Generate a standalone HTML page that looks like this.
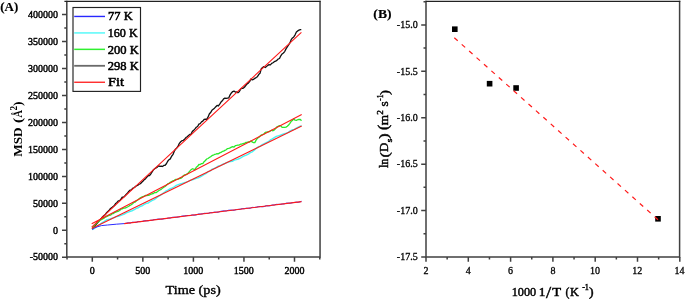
<!DOCTYPE html>
<html><head><meta charset="utf-8"><style>
html,body{margin:0;padding:0;background:#fff;overflow:hidden;}
svg{display:block;will-change:transform;}
text{font-family:"Liberation Serif",serif;fill:#000;}
</style></head><body>
<svg width="685" height="300" viewBox="0 0 685 300">
<path d="M66.8,257.05V1.4M320.05,1.4V257.05M66.8,257.05H320.05" stroke="#404040" stroke-width="1.5" fill="none" stroke-linecap="square"/>
<path d="M64.4,1.4H320.55" stroke="#222" stroke-width="1.1" fill="none"/>
<path d="M62,257.26H66.8 M62,230.3H66.8 M62,203.34H66.8 M62,176.38H66.8 M62,149.41H66.8 M62,122.45H66.8 M62,95.49H66.8 M62,68.53H66.8 M62,41.56H66.8 M62,14.6H66.8 M64.3,243.78H66.8 M64.3,216.82H66.8 M64.3,189.86H66.8 M64.3,162.89H66.8 M64.3,135.93H66.8 M64.3,108.97H66.8 M64.3,82.01H66.8 M64.3,55.04H66.8 M64.3,28.08H66.8 M92.3,257.05V261.85 M142.85,257.05V261.85 M193.4,257.05V261.85 M243.95,257.05V261.85 M294.5,257.05V261.85 M67.03,257.05V259.55 M117.57,257.05V259.55 M168.12,257.05V259.55 M218.68,257.05V259.55 M269.23,257.05V259.55 M319.77,257.05V259.55" stroke="#404040" stroke-width="1.5" fill="none"/>
<text x="29.65" y="260.46" font-size="10" stroke="#000" stroke-width="0.42">-50000</text>
<text x="52.98" y="233.5" font-size="10" stroke="#000" stroke-width="0.42">0</text>
<text x="32.98" y="206.54" font-size="10" stroke="#000" stroke-width="0.42">50000</text>
<text x="27.98" y="179.57" font-size="10" stroke="#000" stroke-width="0.42">100000</text>
<text x="27.98" y="152.61" font-size="10" stroke="#000" stroke-width="0.42">150000</text>
<text x="27.98" y="125.65" font-size="10" stroke="#000" stroke-width="0.42">200000</text>
<text x="27.98" y="98.69" font-size="10" stroke="#000" stroke-width="0.42">250000</text>
<text x="27.98" y="71.73" font-size="10" stroke="#000" stroke-width="0.42">300000</text>
<text x="27.98" y="44.76" font-size="10" stroke="#000" stroke-width="0.42">350000</text>
<text x="27.98" y="17.8" font-size="10" stroke="#000" stroke-width="0.42">400000</text>
<text x="89.8" y="273.7" font-size="10" stroke="#000" stroke-width="0.42">0</text>
<text x="135.18" y="273.7" font-size="10" stroke="#000" stroke-width="0.42">500</text>
<text x="183.15" y="273.7" font-size="10" stroke="#000" stroke-width="0.42">1000</text>
<text x="233.7" y="273.7" font-size="10" stroke="#000" stroke-width="0.42">1500</text>
<text x="284.42" y="273.7" font-size="10" stroke="#000" stroke-width="0.42">2000</text>
<polyline points="92.3,229.01 93.6,227.42 94.9,225.87 96.2,224.33 97.5,222.73 98.8,221.21 100.1,219.75 101.4,218.28 102.7,216.74 104,215.43 105.3,214.63 106.6,212.69 107.9,211.44 109.2,210.28 110.5,208.44 111.8,207.63 113.1,206.57 114.4,205.59 115.7,203.41 117,202.47 118.3,200.93 119.6,200.7 120.9,199.32 122.2,197.2 123.5,197.31 124.8,196.1 126.1,194.49 127.4,193.26 128.7,191.49 130,190.22 131.3,189.91 132.6,188.41 133.9,187.73 135.2,186.89 136.5,185.69 137.8,185.3 139.1,184.23 140.4,183.75 141.7,182.26 143,181.16 144.3,179.69 145.6,178.65 146.9,177.15 148.2,175.72 149.5,175.54 150.8,173.99 152.1,171.83 153.4,169.89 154.7,168.69 156,167.92 157.3,167.1 158.6,165.84 159.9,166.46 161.2,166.12 162.5,166.49 163.8,165.46 165.1,165.24 166.4,163.79 167.7,161.22 169,159.69 170.3,158.84 171.6,156.25 172.9,154.67 174.2,151.56 175.5,149.15 176.8,147.98 178.1,146.14 179.4,143.34 180.7,141.72 182,140.72 183.3,140.29 184.6,139.21 185.9,137.53 187.2,136.72 188.5,135.52 189.8,134.47 191.1,134.02 192.4,131.37 193.7,130.38 195,128.93 196.3,127.27 197.6,126.5 198.9,124.12 200.2,123.55 201.5,121.9 202.8,121.09 204.1,119.5 205.4,119.21 206.7,119.44 208,117.19 209.3,114.03 210.6,112.55 211.9,110.35 213.2,109.28 214.5,108.17 215.8,106.81 217.1,105.43 218.4,105.97 219.7,104.1 221,102.08 222.3,100.78 223.6,98.86 224.9,98.11 226.2,98.45 227.5,98.1 228.8,97.77 230.1,94.89 231.4,92.97 232.7,91.52 234,91.05 235.3,92.05 236.6,91.95 237.9,92.75 239.2,91.74 240.5,89.33 241.8,88.29 243.1,88.35 244.4,87.26 245.7,85.52 247,84.02 248.3,83.1 249.6,81.62 250.9,79.05 252.2,79.93 253.5,79.46 254.8,78.36 256.1,77.58 257.4,76.68 258.7,74.54 260,73.31 261.3,68.69 262.6,67.47 263.9,66.58 265.2,67.54 266.5,66.5 267.8,65.38 269.1,64.64 270.4,64.85 271.7,63.42 273,62.74 274.3,61.7 275.6,61.1 276.9,60.35 278.2,58.99 279.5,58.49 280.8,55.77 282.1,53.92 283.4,52.98 284.7,51.58 286,48.86 287.3,46.86 288.6,45 289.9,42.9 291.2,39.68 292.5,37.92 293.8,36.89 295.1,34.85 296.4,32.06 297.7,30.92 299,30.19 300.3,29.66 301.3,29.7" fill="none" stroke="#111" stroke-width="1.3" stroke-linejoin="round"/>
<polyline points="92.3,228.3 93.6,226.48 94.9,224.95 96.2,223.59 97.5,222.39 98.8,221.36 100.1,220.18 101.4,219.71 102.7,218.9 104,218.26 105.3,217.05 106.6,216.55 107.9,215.92 109.2,215.36 110.5,215.22 111.8,213.98 113.1,213.7 114.4,212.71 115.7,212.11 117,211.58 118.3,211.31 119.6,210.45 120.9,209.22 122.2,208.85 123.5,208.09 124.8,208.22 126.1,207.57 127.4,206.99 128.7,206.3 130,205.39 131.3,204.76 132.6,203.78 133.9,202.42 135.2,202.04 136.5,200.7 137.8,199.99 139.1,198.81 140.4,197.81 141.7,197.11 143,196.54 144.3,196.01 145.6,195.39 146.9,195.68 148.2,195.24 149.5,195.01 150.8,194.3 152.1,193.75 153.4,193.54 154.7,192.55 156,192.72 157.3,191.75 158.6,190.74 159.9,190.02 161.2,189.36 162.5,188.09 163.8,187.29 165.1,186.44 166.4,185.23 167.7,183.96 169,183.44 170.3,182.35 171.6,181.51 172.9,180.78 174.2,180.33 175.5,179.41 176.8,179.36 178.1,179.33 179.4,178.48 180.7,178.32 182,177.56 183.3,175.69 184.6,174.92 185.9,174.73 187.2,173.89 188.5,172.77 189.8,171.13 191.1,169.67 192.4,168.74 193.7,169.22 195,169.6 196.3,167.34 197.6,166.33 198.9,164.5 200.2,164.53 201.5,163.63 202.8,163.66 204.1,161.7 205.4,160.44 206.7,159 208,158.48 209.3,157.58 210.6,156.73 211.9,155.66 213.2,155.19 214.5,154.44 215.8,154.07 217.1,153.61 218.4,153.78 219.7,152.86 221,152.46 222.3,151.44 223.6,151.18 224.9,150.4 226.2,149.7 227.5,148.59 228.8,148.39 230.1,147.84 231.4,147.16 232.7,146.62 234,147.09 235.3,145.69 236.6,145.4 237.9,145.06 239.2,145.07 240.5,144.16 241.8,144.08 243.1,143.51 244.4,143.57 245.7,142.35 247,142.29 248.3,142.01 249.6,142.03 250.9,141.12 252.2,141.84 253.5,142.68 254.8,142.67 256.1,140.14 257.4,138.31 258.7,137.51 260,136.13 261.3,134.91 262.6,134.68 263.9,134.04 265.2,132.49 266.5,132.09 267.8,131.86 269.1,131.74 270.4,131 271.7,130.27 273,130.83 274.3,129.96 275.6,128.62 276.9,126.89 278.2,126.26 279.5,125.64 280.8,125.93 282.1,127.4 283.4,127.44 284.7,127.45 286,127.1 287.3,126.2 288.6,124.97 289.9,123.34 291.2,121.33 292.5,120.36 293.8,119.03 295.1,120.16 296.4,120.31 297.7,119.72 299,119.5 300.3,119.44 301.5,120.8" fill="none" stroke="#2aea2a" stroke-width="1.3" stroke-linejoin="round"/>
<polyline points="92.3,229.8 94.3,228.36 96.3,226.91 98.3,225.47 100.3,224.09 102.3,222.54 104.3,221.32 106.3,220 108.3,219.49 110.3,219.02 112.3,218.18 114.3,217.67 116.3,216.6 118.3,216.23 120.3,215.5 122.3,214.95 124.3,214.21 126.3,212.95 128.3,212.15 130.3,211.27 132.3,210.72 134.3,209.71 136.3,208.39 138.3,207.79 140.3,206.42 142.3,205.73 144.3,204.46 146.3,203.41 148.3,202.95 150.3,201.55 152.3,200.37 154.3,199.52 156.3,198.08 158.3,196.35 160.3,195.38 162.3,193.75 164.3,192.45 166.3,190.79 168.3,189.86 170.3,188.59 172.3,187.78 174.3,186.75 176.3,185.42 178.3,184.71 180.3,183.96 182.3,183.32 184.3,182.65 186.3,182.05 188.3,181.42 190.3,180.25 192.3,179.87 194.3,178.99 196.3,178.3 198.3,177.91 200.3,176.93 202.3,175.69 204.3,174.47 206.3,173.29 208.3,171.61 210.3,170.87 212.3,169.08 214.3,168.3 216.3,167.37 218.3,166.02 220.3,165.62 222.3,164.51 224.3,163.78 226.3,162.72 228.3,162.1 230.3,161.54 232.3,161.29 234.3,160.07 236.3,159.66 238.3,159 240.3,158.22 242.3,156.89 244.3,155.92 246.3,155.04 248.3,154.18 250.3,152.6 252.3,151.81 254.3,150.14 256.3,148.33 258.3,146.73 260.3,146.16 262.3,144.54 264.3,143.58 266.3,142.63 268.3,141.66 270.3,139.94 272.3,138.91 274.3,137.57 276.3,136.45 278.3,135.8 280.3,135.24 282.3,134.48 284.3,133.7 286.3,133.18 288.3,132.35 290.3,130.84 292.3,129.78 294.3,129.4 296.3,128.19 298.3,127.18 300.3,126.15 301.5,125.74" fill="none" stroke="#48f4f4" stroke-width="1.4" stroke-linejoin="round"/>
<polyline points="92.2,229.5 94.5,228 97,226.9 101.4,225.6 107.5,225 116.3,224.2 124.2,223.6 126.2,223.23 128.2,222.81 130.2,223.11 132.2,222.21 134.2,222.34 136.2,222.38 138.2,221.52 140.2,221.63 142.2,221.43 144.2,220.75 146.2,220.75 148.2,220.75 150.2,220.31 152.2,220.27 154.2,219.59 156.2,219.41 158.2,219.06 160.2,219.11 162.2,219.18 164.2,218.68 166.2,218.57 168.2,218.03 170.2,218.05 172.2,217.32 174.2,217.21 176.2,217.25 178.2,217.04 180.2,216.57 182.2,216.07 184.2,215.95 186.2,215.66 188.2,215.47 190.2,215.62 192.2,214.91 194.2,215.18 196.2,214.92 198.2,214.06 200.2,214.05 202.2,213.89 204.2,213.29 206.2,213.34 208.2,213.46 210.2,212.61 212.2,212.73 214.2,212.12 216.2,212.22 218.2,212.21 220.2,211.44 222.2,211.04 224.2,210.85 226.2,210.95 228.2,210.31 230.2,210.11 232.2,210.17 234.2,210.24 236.2,209.62 238.2,209.35 240.2,209.28 242.2,208.63 244.2,208.74 246.2,208.19 248.2,208.27 250.2,208.28 252.2,207.36 254.2,207.48 256.2,207.27 258.2,206.68 260.2,206.52 262.2,206.82 264.2,206.57 266.2,205.67 268.2,205.86 270.2,205.79 272.2,205.01 274.2,205.04 276.2,204.37 278.2,204.36 280.2,204.35 282.2,204.03 284.2,203.92 286.2,203.16 288.2,203.11 290.2,203.25 292.2,202.79 294.2,202.44 296.2,202.16 298.2,202.35 300.2,201.79 301.5,201.3" fill="none" stroke="#2a2aff" stroke-width="1.0" stroke-linejoin="round"/>
<path d="M124.2,223.6L301.5,201.6 M91.7,228.59L301.7,125.95 M91.7,223.81L301.7,114.51 M91.7,227.07L301.4,32.31" stroke="#ff1a1a" stroke-width="1.1" fill="none"/>
<rect x="73.0" y="7.5" width="67.5" height="83.9" fill="#fff" stroke="#222" stroke-width="1.15"/>
<line x1="74.2" y1="16.45" x2="105" y2="16.45" stroke="#2828ff" stroke-width="1.4"/>
<line x1="74.2" y1="32.9" x2="105" y2="32.9" stroke="#74fafa" stroke-width="1.8"/>
<line x1="74.2" y1="49.35" x2="105" y2="49.35" stroke="#30f030" stroke-width="1.5"/>
<line x1="74.2" y1="65.8" x2="105" y2="65.8" stroke="#6a6a6a" stroke-width="1.8"/>
<line x1="74.2" y1="82.25" x2="105" y2="82.25" stroke="#ff1a1a" stroke-width="1.3"/>
<path d="M426,257V1.4M679.6,1.4V257M426,257H679.6" stroke="#404040" stroke-width="1.5" fill="none" stroke-linecap="square"/>
<path d="M425.3,1.4H680.3" stroke="#222" stroke-width="1.1" fill="none"/>
<path d="M421.2,24.9H426 M421.2,71.32H426 M421.2,117.74H426 M421.2,164.16H426 M421.2,210.58H426 M421.2,257H426 M423.5,1.69H426 M423.5,48.11H426 M423.5,94.53H426 M423.5,140.95H426 M423.5,187.37H426 M423.5,233.79H426 M426,257V261.8 M468.3,257V261.8 M510.6,257V261.8 M552.9,257V261.8 M595.2,257V261.8 M637.5,257V261.8 M679.8,257V261.8 M447.15,257V259.5 M489.45,257V259.5 M531.75,257V259.5 M574.05,257V259.5 M616.35,257V259.5 M658.65,257V259.5" stroke="#404040" stroke-width="1.5" fill="none"/>
<text x="396.85" y="28.1" font-size="10" stroke="#000" stroke-width="0.3">-15.0</text>
<text x="396.85" y="74.52" font-size="10" stroke="#000" stroke-width="0.3">-15.5</text>
<text x="396.85" y="120.94" font-size="10" stroke="#000" stroke-width="0.3">-16.0</text>
<text x="396.85" y="167.36" font-size="10" stroke="#000" stroke-width="0.3">-16.5</text>
<text x="396.85" y="213.78" font-size="10" stroke="#000" stroke-width="0.3">-17.0</text>
<text x="396.85" y="260.2" font-size="10" stroke="#000" stroke-width="0.3">-17.5</text>
<text x="423.5" y="273.8" font-size="10" stroke="#000" stroke-width="0.3">2</text>
<text x="465.8" y="273.8" font-size="10" stroke="#000" stroke-width="0.3">4</text>
<text x="508.02" y="273.8" font-size="10" stroke="#000" stroke-width="0.3">6</text>
<text x="550.4" y="273.8" font-size="10" stroke="#000" stroke-width="0.3">8</text>
<text x="589.95" y="273.8" font-size="10" stroke="#000" stroke-width="0.3">10</text>
<text x="632.33" y="273.8" font-size="10" stroke="#000" stroke-width="0.3">12</text>
<text x="674.47" y="273.8" font-size="10" stroke="#000" stroke-width="0.3">14</text>
<rect x="452" y="26.4" width="5.6" height="5.6" fill="#000"/>
<rect x="486.8" y="80.9" width="5.6" height="5.6" fill="#000"/>
<rect x="513.3" y="85.2" width="5.6" height="5.6" fill="#000"/>
<rect x="655.2" y="216" width="5.6" height="5.6" fill="#000"/>
<line x1="454.3" y1="37.7" x2="658" y2="219.7" stroke="#ff1a1a" stroke-width="1.2" stroke-dasharray="4.6 5.35"/>
<text x="0.3" y="11.08" font-size="12.62" font-weight="bold" textLength="17.94" lengthAdjust="spacingAndGlyphs" stroke="#000" stroke-width="0.15">(A)</text>
<text x="165.51" y="294.23" font-size="13" textLength="55.21" lengthAdjust="spacingAndGlyphs" stroke="#000" stroke-width="0.38">Time (ps)</text>
<text x="108.11" y="20.45" font-size="12.77" textLength="24.71" lengthAdjust="spacingAndGlyphs" stroke="#000" stroke-width="0.55">77 K</text>
<text x="107.74" y="37.05" font-size="12.92" textLength="29.88" lengthAdjust="spacingAndGlyphs" stroke="#000" stroke-width="0.55">160 K</text>
<text x="107.82" y="53.55" font-size="12.92" textLength="31" lengthAdjust="spacingAndGlyphs" stroke="#000" stroke-width="0.55">200 K</text>
<text x="107.82" y="70.05" font-size="12.92" textLength="31" lengthAdjust="spacingAndGlyphs" stroke="#000" stroke-width="0.55">298 K</text>
<text x="107.97" y="86.45" font-size="12.77" textLength="15.95" lengthAdjust="spacingAndGlyphs" stroke="#000" stroke-width="0.55">Fit</text>
<text x="-156.77" y="21.95" font-size="13.08" font-weight="bold" textLength="29.46" lengthAdjust="spacingAndGlyphs" transform="rotate(-90)">MSD</text>
<text x="-123.18" y="22.18" font-size="13.36" font-weight="bold" textLength="5.56" lengthAdjust="spacingAndGlyphs" transform="rotate(-90)">(</text>
<text x="-117.52" y="21.95" font-size="12.92" font-weight="bold" textLength="7.47" lengthAdjust="spacingAndGlyphs" transform="rotate(-90)">Å</text>
<text x="-110.61" y="16.55" font-size="9.85" font-weight="bold" textLength="4.62" lengthAdjust="spacingAndGlyphs" transform="rotate(-90)">2</text>
<text x="-106" y="22.27" font-size="12.91" font-weight="bold" textLength="4.53" lengthAdjust="spacingAndGlyphs" transform="rotate(-90)">)</text>
<text x="373.37" y="18.27" font-size="12.91" font-weight="bold" textLength="18.16" lengthAdjust="spacingAndGlyphs" stroke="#000" stroke-width="0.15">(B)</text>
<text x="511.73" y="295.65" font-size="12.15" textLength="24.53" lengthAdjust="spacingAndGlyphs" stroke="#000" stroke-width="0.45">1000</text>
<text x="538.78" y="295.6" font-size="12.23" textLength="6.71" lengthAdjust="spacingAndGlyphs" stroke="#000" stroke-width="0.45">1</text>
<text x="545.9" y="297.6" font-size="16.46" textLength="5.16" lengthAdjust="spacingAndGlyphs" stroke="#000" stroke-width="0.45">/</text>
<text x="552.16" y="295.6" font-size="11.85" textLength="8.85" lengthAdjust="spacingAndGlyphs" stroke="#000" stroke-width="0.45">T</text>
<text x="565.56" y="296.41" font-size="13.19" textLength="3.93" lengthAdjust="spacingAndGlyphs" stroke="#000" stroke-width="0.45">(</text>
<text x="569.99" y="295.6" font-size="11.85" textLength="8.93" lengthAdjust="spacingAndGlyphs" stroke="#000" stroke-width="0.45">K</text>
<text x="582.13" y="290.35" font-size="8.77" textLength="6.76" lengthAdjust="spacingAndGlyphs" stroke="#000" stroke-width="0.45">-1</text>
<text x="588.94" y="296.41" font-size="13.19" textLength="4.6" lengthAdjust="spacingAndGlyphs" stroke="#000" stroke-width="0.45">)</text>
<text x="-168.05" y="387.75" font-size="11.71" textLength="9.33" lengthAdjust="spacingAndGlyphs" stroke="#000" stroke-width="0.45" transform="rotate(-90)">ln</text>
<text x="-157.55" y="388.96" font-size="13.47" textLength="5.33" lengthAdjust="spacingAndGlyphs" stroke="#000" stroke-width="0.45" transform="rotate(-90)">(</text>
<text x="-152.08" y="387.75" font-size="12.31" textLength="9.22" lengthAdjust="spacingAndGlyphs" stroke="#000" stroke-width="0.45" transform="rotate(-90)">D</text>
<text x="-142.21" y="391.65" font-size="7.33" textLength="3.57" lengthAdjust="spacingAndGlyphs" stroke="#000" stroke-width="0.45" transform="rotate(-90)">s</text>
<text x="-138.78" y="388.17" font-size="12.91" textLength="5.33" lengthAdjust="spacingAndGlyphs" stroke="#000" stroke-width="0.45" transform="rotate(-90)">)</text>
<text x="-130.03" y="388.24" font-size="14.04" textLength="5.2" lengthAdjust="spacingAndGlyphs" stroke="#000" stroke-width="0.45" transform="rotate(-90)">(</text>
<text x="-125.27" y="387.75" font-size="11.78" textLength="10.37" lengthAdjust="spacingAndGlyphs" stroke="#000" stroke-width="0.45" transform="rotate(-90)">m</text>
<text x="-114.71" y="382.95" font-size="8.92" textLength="4.62" lengthAdjust="spacingAndGlyphs" stroke="#000" stroke-width="0.45" transform="rotate(-90)">2</text>
<text x="-106.52" y="388.05" font-size="12.44" textLength="5.19" lengthAdjust="spacingAndGlyphs" stroke="#000" stroke-width="0.45" transform="rotate(-90)">s</text>
<text x="-100.8" y="382.85" font-size="8.77" textLength="6.13" lengthAdjust="spacingAndGlyphs" stroke="#000" stroke-width="0.45" transform="rotate(-90)">-1</text>
<text x="-95.04" y="388.5" font-size="13.25" textLength="4.93" lengthAdjust="spacingAndGlyphs" stroke="#000" stroke-width="0.45" transform="rotate(-90)">)</text>
</svg>
</body></html>
